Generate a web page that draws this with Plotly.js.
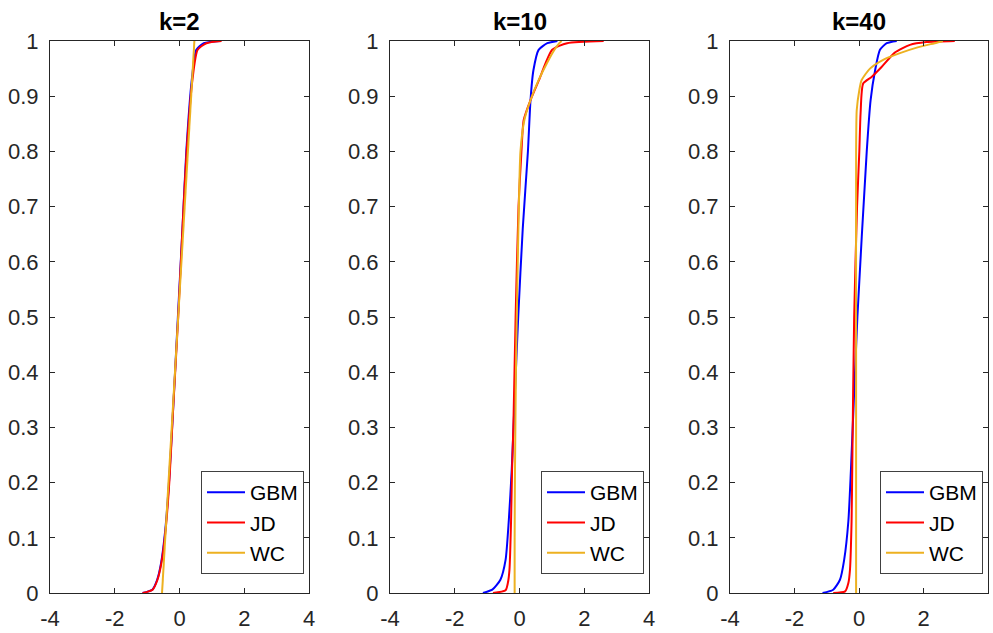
<!DOCTYPE html>
<html>
<head>
<meta charset="utf-8">
<script src="https://cdn.plot.ly/plotly-3.0.1.min.js"></script>
<style>html,body{margin:0;padding:0;background:#fff;}#chart{width:993px;height:633px;}</style>
</head>
<body>
<div id="chart"></div>
<script>
// Panel titles and series names
var panelTitles = ["k=2", "k=10", "k=40"];
var seriesNames = ["GBM", "JD", "WC"];
var xTickVals = [-4, -2, 0, 2, 4];
var xTickText = ["-4", "-2", "0", "2", "4"];
var yTickVals = [0, 0.1, 0.2, 0.3, 0.4, 0.5, 0.6, 0.7, 0.8, 0.9, 1];
var yTickText = ["0", "0.1", "0.2", "0.3", "0.4", "0.5", "0.6", "0.7", "0.8", "0.9", "1"];

// k=2
var gbm2_x = [-1.14, -0.84, -0.69, -0.57, -0.44, -0.32, -0.2, -0.05, 0.1, 0.21, 0.38, 0.52, 0.75, 1.25];
var gbm2_y = [0, 0.006, 0.024, 0.054, 0.114, 0.205, 0.33, 0.5, 0.67, 0.8, 0.93, 0.984, 0.996, 1];
var jd2_x  = [-1.14, -0.83, -0.68, -0.56, -0.43, -0.31, -0.2, -0.04, 0.1, 0.22, 0.4, 0.56, 0.83, 1.3];
var jd2_y  = [0, 0.006, 0.024, 0.054, 0.114, 0.205, 0.33, 0.5, 0.67, 0.8, 0.93, 0.984, 0.996, 1];
var wc2_x  = [-0.54, 0.46];
var wc2_y  = [0, 1];

// k=10
var gbm10_x = [-1.13, -0.84, -0.59, -0.43, -0.33, -0.24, -0.15, -0.04, 0.1, 0.26, 0.34, 0.43, 0.59, 0.86, 1.17];
var gbm10_y = [0, 0.006, 0.024, 0.06, 0.132, 0.223, 0.35, 0.5, 0.66, 0.8, 0.893, 0.947, 0.984, 0.996, 1];
var jd10_x  = [-0.82, -0.43, -0.36, -0.31, -0.26, -0.23, -0.19, -0.12, -0.03, 0.06, 0.13, 0.34, 0.6, 1.01, 1.47, 2.6];
var jd10_y  = [0, 0.005, 0.018, 0.042, 0.132, 0.223, 0.3, 0.5, 0.7, 0.8, 0.857, 0.893, 0.929, 0.984, 0.996, 1];
var wc10_x  = [-0.15, -0.15, -0.14, -0.11, -0.07, -0.02, 0.03, 0.15, 0.34, 0.59, 0.85, 1.08, 1.23, 1.3];
var wc10_y  = [0, 0.1, 0.22, 0.4, 0.55, 0.7, 0.8, 0.857, 0.893, 0.929, 0.96, 0.984, 0.996, 1];

// k=40
var gbm40_x = [-1.13, -0.8, -0.59, -0.46, -0.33, -0.25, -0.05, 0.24, 0.36, 0.5, 0.65, 0.86, 1.17];
var gbm40_y = [0, 0.006, 0.024, 0.06, 0.13, 0.223, 0.5, 0.8, 0.893, 0.947, 0.984, 0.996, 1];
var jd40_x  = [-0.8, -0.43, -0.33, -0.28, -0.23, -0.21, -0.15, -0.06, 0.01, 0.05, 0.13, 0.39, 0.7, 1.11, 1.58, 2.09, 2.97];
var jd40_y  = [0, 0.003, 0.018, 0.042, 0.13, 0.223, 0.5, 0.7, 0.8, 0.87, 0.923, 0.935, 0.953, 0.979, 0.993, 0.998, 1];
var wc40_x  = [-0.09, -0.09, -0.09, -0.07, 0.01, 0.08, 0.34, 0.75, 1.27, 1.79, 2.41, 2.6];
var wc40_y  = [0, 0.5, 0.8, 0.875, 0.911, 0.929, 0.95, 0.966, 0.978, 0.988, 0.997, 1];

var colors = ["#0000ff", "#ff0000", "#edb120"];
var panels = [
  [[gbm2_x, gbm2_y], [jd2_x, jd2_y], [wc2_x, wc2_y]],
  [[gbm10_x, gbm10_y], [jd10_x, jd10_y], [wc10_x, wc10_y]],
  [[gbm40_x, gbm40_y], [jd40_x, jd40_y], [wc40_x, wc40_y]]
];

var W = 993, H = 633;
var plotLeft = [50, 390, 730];
var plotRight = [309, 649, 988];
var plotTop = 41, plotBottom = 593;
var fontFam = "Liberation Sans, Arial, Helvetica, sans-serif";
var axisColor = "#262626";

var traces = [];
var layout = {
  width: W, height: H,
  margin: {l: 0, r: 0, t: 0, b: 0},
  paper_bgcolor: "#ffffff", plot_bgcolor: "#ffffff",
  showlegend: true,
  annotations: []
};

for (var p = 0; p < 3; p++) {
  var suf = p === 0 ? "" : String(p + 1);
  var legName = "legend" + suf;
  for (var s = 0; s < 3; s++) {
    traces.push({
      type: "scatter", mode: "lines",
      x: panels[p][s][0], y: panels[p][s][1],
      name: seriesNames[s],
      line: {color: colors[s], width: 2, shape: "spline", smoothing: 0.6},
      xaxis: "x" + suf, yaxis: "y" + suf,
      legend: legName
    });
  }
  var axBase = {
    showgrid: false, zeroline: false, showline: true, linecolor: axisColor, linewidth: 1,
    mirror: "ticks", ticks: "inside", ticklen: 5, tickwidth: 1, tickcolor: axisColor,
    tickfont: {family: fontFam, size: 22, color: axisColor}
  };
  layout["xaxis" + suf] = Object.assign({}, axBase, {
    domain: [plotLeft[p] / W, plotRight[p] / W],
    range: [-4, 4], tickmode: "array", tickvals: xTickVals, ticktext: xTickText,
    anchor: "y" + suf, fixedrange: true, ticklabelstandoff: 6
  });
  layout["yaxis" + suf] = Object.assign({}, axBase, {
    domain: [(H - plotBottom) / H, (H - plotTop) / H],
    range: [0, 1], tickmode: "array", tickvals: yTickVals, ticktext: yTickText,
    anchor: "x" + suf, fixedrange: true, ticklabelstandoff: 6
  });
  layout[legName] = {
    x: (plotRight[p] - 5) / W, y: (H - 574) / H,
    xanchor: "right", yanchor: "bottom",
    xref: "paper", yref: "paper",
    bgcolor: "#ffffff", bordercolor: "#404040", borderwidth: 1,
    font: {family: fontFam, size: 21, color: "#000000"},
    itemwidth: 38,
    tracegroupgap: 0
  };
  layout.annotations.push({
    text: "<b>" + panelTitles[p] + "</b>",
    xref: "paper", yref: "paper",
    x: (plotLeft[p] + plotRight[p]) / 2 / W, y: (H - 22) / H,
    xanchor: "center", yanchor: "middle", showarrow: false,
    font: {family: fontFam, size: 24, color: "#000000"}
  });
}

Plotly.newPlot("chart", traces, layout, {staticPlot: true, displayModeBar: false});
</script>
</body>
</html>
